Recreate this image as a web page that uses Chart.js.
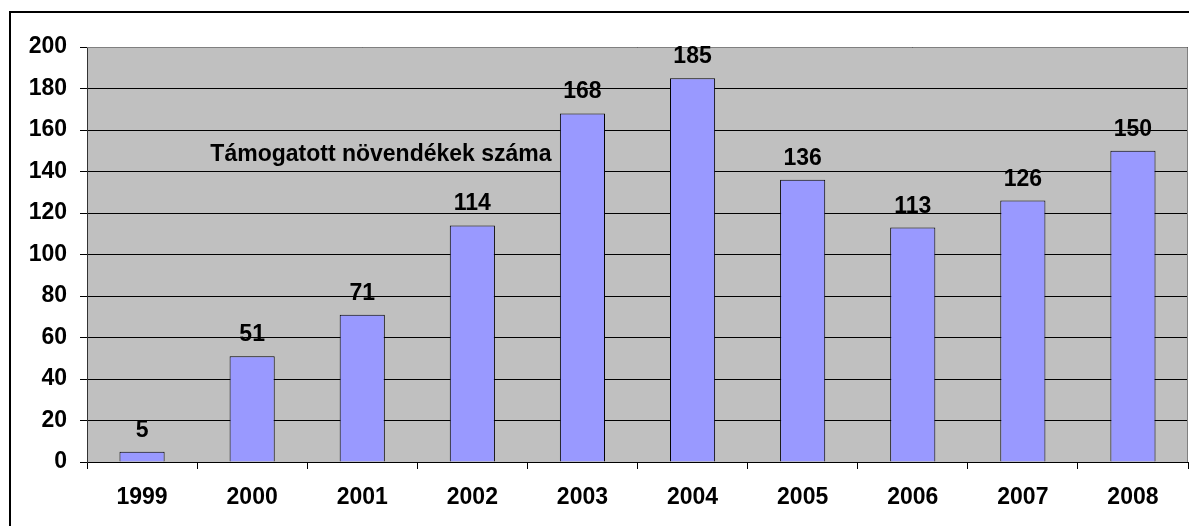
<!DOCTYPE html>
<html>
<head>
<meta charset="utf-8">
<script src="https://cdn.jsdelivr.net/npm/chart.js@4"></script>
<style>
  body { margin: 0; background: #fff; }
  #chart { display: block; }
</style>
</head>
<body>
<canvas id="chart" width="1189" height="526"></canvas>
<script>
const years = ['1999', '2000', '2001', '2002', '2003', '2004', '2005', '2006', '2007', '2008'];
const students = [5, 51, 71, 114, 168, 185, 136, 113, 126, 150];
const seriesTitle = 'Támogatott növendékek száma';

const font = { family: '"Liberation Sans", Arial, sans-serif', size: 23, weight: 'bold' };

// gray plot background, outer frame, value labels and the text box
const decor = {
    id: 'decor',
    beforeDraw(chart) {
        const { ctx, chartArea: a } = chart;
        ctx.save();
        ctx.fillStyle = '#c0c0c0';
        ctx.fillRect(a.left, a.top, a.right - a.left, a.bottom - a.top);
        ctx.strokeStyle = '#000';
        ctx.lineWidth = 2;
        ctx.strokeRect(10, 12, 1200, 600);
        ctx.restore();
    },
    beforeDatasetsDraw(chart) {
        const { ctx, chartArea: a } = chart;
        ctx.save();
        ctx.strokeStyle = '#808080';
        ctx.lineWidth = 1;
        ctx.beginPath();
        ctx.moveTo(a.left, a.top + 0.5);
        ctx.lineTo(a.right - 0.5, a.top + 0.5);
        ctx.lineTo(a.right - 0.5, a.bottom);
        ctx.stroke();
        ctx.restore();
    },
    afterDatasetsDraw(chart) {
        const { ctx, scales } = chart;
        ctx.save();
        ctx.font = 'bold 23px "Liberation Sans", Arial, sans-serif';
        ctx.fillStyle = '#000';
        ctx.textAlign = 'center';
        ctx.textBaseline = 'alphabetic';
        chart.getDatasetMeta(0).data.forEach((bar, i) => {
            ctx.fillText(students[i], bar.x, bar.y - 15);
        });
        ctx.textBaseline = 'middle';
        ctx.fillText(seriesTitle, scales.x.getPixelForValue(2.17), scales.y.getPixelForValue(148));
        ctx.restore();
    }
};

new Chart(document.getElementById('chart').getContext('2d'), {
    type: 'bar',
    data: {
        labels: years,
        datasets: [{
            label: seriesTitle,
            data: students,
            backgroundColor: '#9999ff',
            borderColor: '#000',
            borderWidth: 1,
            barPercentage: 0.41,
            categoryPercentage: 1,
        }],
    },
    options: {
        responsive: false,
        animation: false,
        layout: { padding: { top: 47, right: 1, left: 0, bottom: 0 } },
        plugins: {
            legend: { display: false },
            tooltip: { enabled: false },
        },
        scales: {
            x: {
                afterFit: (s) => { s.height = 64; },
                grid: { offset: true, drawOnChartArea: false, color: '#000', tickLength: 7 },
                border: { color: '#000', width: 1 },
                ticks: { color: '#000', font, padding: 15 },
            },
            y: {
                min: 0,
                max: 200,
                afterFit: (s) => { s.width = 87; },
                grid: { color: '#000', tickLength: 7 },
                border: { color: '#333', width: 1 },
                ticks: { stepSize: 20, color: '#000', font, padding: 13 },
            },
        },
    },
    plugins: [decor],
});
</script>
</body>
</html>
